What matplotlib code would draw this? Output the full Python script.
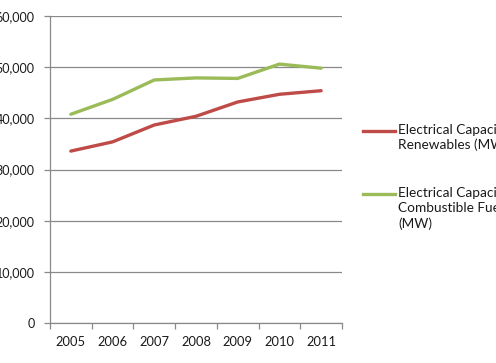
import matplotlib
matplotlib.use("Agg")
import matplotlib.pyplot as plt
from matplotlib.lines import Line2D
from matplotlib.ticker import FuncFormatter, MultipleLocator

years = ["2005", "2006", "2007", "2008", "2009", "2010", "2011"]
renewables = [33600, 35400, 38700, 40400, 43200, 44700, 45400]
combustible = [40800, 43700, 47500, 47900, 47800, 50600, 49800]
series_labels = [
    "Electrical Capacity from\nRenewables (MW)",
    "Electrical Capacity from\nCombustible Fuels\n(MW)",
]
RED = "#BE4B48"
GREEN = "#9BBB59"
FONT = "Lato"

fig = plt.figure(figsize=(4.96, 3.63), dpi=100)
ax = fig.add_axes([50 / 496, 40 / 363, 292 / 496, 307 / 363])

x = list(range(len(years)))
ax.plot(x, renewables, color=RED, linewidth=2.4, solid_capstyle="round")
ax.plot(x, combustible, color=GREEN, linewidth=2.4, solid_capstyle="round")

ax.set_xlim(-0.5, len(years) - 0.5)
ax.set_ylim(0, 60000)
ax.yaxis.set_major_locator(MultipleLocator(10000))
ax.yaxis.set_major_formatter(FuncFormatter(lambda v, p: f"{int(v):,}"))
ax.set_xticks(x)
ax.set_xticklabels(years)
ax.set_xticks([i - 0.5 for i in range(len(years) + 1)], minor=True)

ax.grid(axis="y", color="#898989", linewidth=0.9)
ax.set_axisbelow(True)
for side in ("top", "right"):
    ax.spines[side].set_visible(False)
for side in ("left", "bottom"):
    ax.spines[side].set_color("#898989")
    ax.spines[side].set_linewidth(0.9)

ax.tick_params(axis="x", which="major", length=0, pad=9, labelsize=9.3, labelcolor="#1a1a1a")
ax.tick_params(axis="x", which="minor", length=4, color="#898989", width=0.9, direction="out")
ax.tick_params(axis="y", length=4, color="#898989", width=0.9, pad=7, labelsize=9.0, labelcolor="#1a1a1a")
for lab in ax.get_xticklabels() + ax.get_yticklabels():
    lab.set_fontfamily(FONT)

# legend drawn by hand, handle aligned with the first text line
for (label, color, ypix) in zip(series_labels, [RED, GREEN], [130.7, 194.0]):
    yf = 1 - ypix / 363
    fig.add_artist(Line2D([363 / 496, 395 / 496], [yf, yf], color=color, linewidth=2.4,
                          transform=fig.transFigure))
    fig.text(398 / 496, yf + 7 / 363, label, ha="left", va="top", fontsize=9.8,
             fontfamily=FONT, color="#1a1a1a", linespacing=1.3)

fig.savefig("out.png", dpi=100)
